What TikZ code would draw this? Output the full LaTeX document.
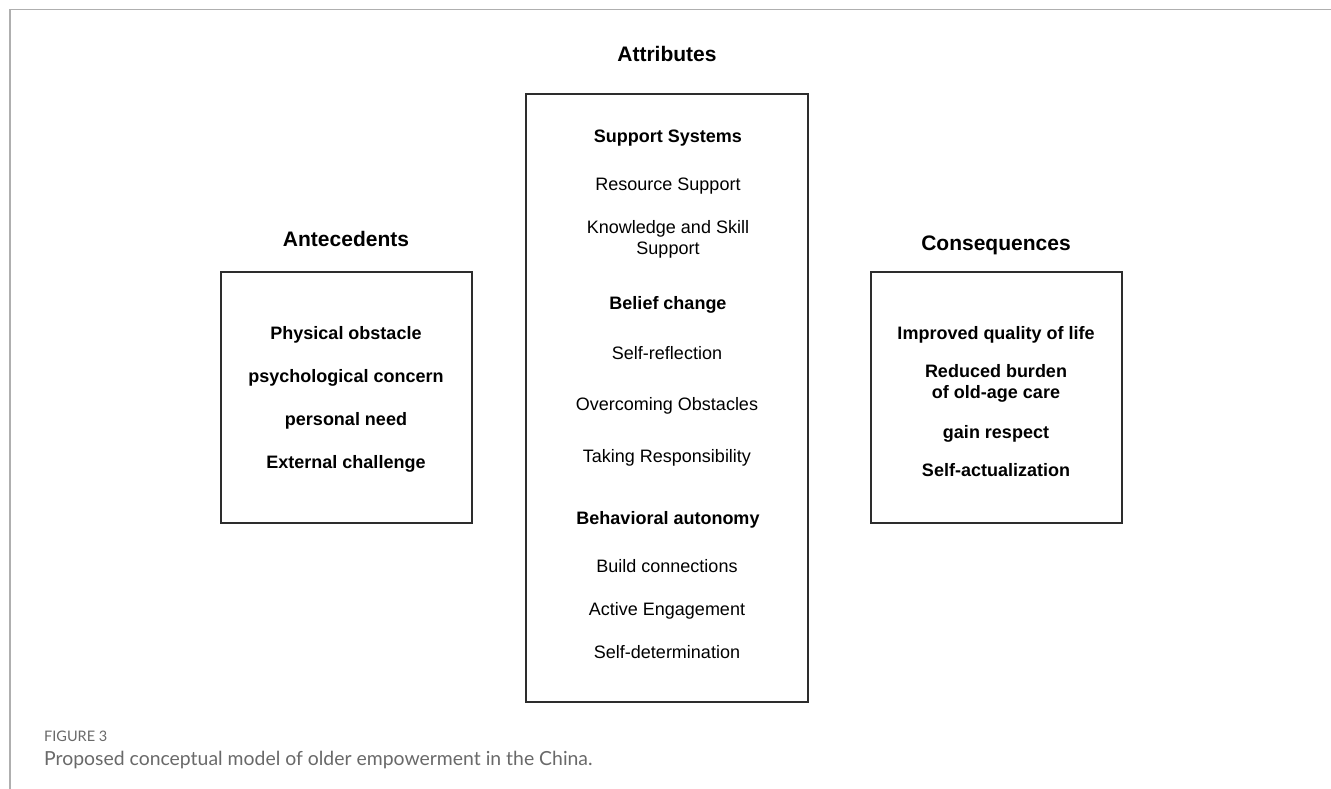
\documentclass[tikz,border=0pt]{standalone}
\usepackage{fontspec}
\setmainfont{Liberation Sans}
\newfontfamily\capfont{Lato}
\definecolor{framegray}{RGB}{175,175,175}
\definecolor{capgray}{RGB}{105,105,105}
\definecolor{boxline}{RGB}{45,45,45}
\begin{document}
\begin{tikzpicture}[x=1pt,y=-1pt,
  box/.style={draw=boxline, line width=1.2pt, inner sep=0pt},
  title/.style={font=\fontsize{21}{25}\selectfont\bfseries, inner sep=0pt},
  item/.style={font=\fontsize{18}{21}\selectfont, align=center, inner sep=0pt},
  bitem/.style={font=\fontsize{18}{21}\selectfont\bfseries, align=center, inner sep=0pt},
  frameline/.style={draw=framegray, line width=1.4pt}]
\useasboundingbox (0,0) rectangle (1331,789);
% frame
\coordinate (fbl) at (10,789);
\coordinate (ftl) at (10,9.5);
\coordinate (ftr) at (1331,9.5);
\draw[frameline] (fbl) -- (ftl) -- (ftr);
% boxes
\node[box, minimum width=251pt, minimum height=251pt] (ante) at (346.5,397.5) {};
\node[box, minimum width=282pt, minimum height=608pt] (attr) at (667,398) {};
\node[box, minimum width=251pt, minimum height=251pt] (cons) at (996.5,397.5) {};
% titles
\node[title] (tattr) at (667,54) {Attributes};
\node[title] (tante) at (346,239) {Antecedents};
\node[title] (tcons) at (996,245) {Consequences};
% antecedents
\node[bitem] (a1) at (346,335) {Physical obstacle};
\node[bitem] (a2) at (346,378) {psychological concern};
\node[bitem] (a3) at (346,421) {personal need};
\node[bitem] (a4) at (346,464) {External challenge};
% attributes
\node[bitem] (m1) at (668,138) {Support Systems};
\node[item] (m2) at (668,186) {Resource Support};
\node[item] (m3) at (668,239.5) {Knowledge and Skill\\Support};
\node[bitem] (m4) at (668,305) {Belief change};
\node[item] (m5) at (667,353) {Self-reflection};
\node[item] (m6) at (667,406) {Overcoming Obstacles};
\node[item] (m7) at (667,458) {Taking Responsibility};
\node[bitem] (m8) at (668,520) {Behavioral autonomy};
\node[item] (m9) at (667,566) {Build connections};
\node[item] (m10) at (667,611) {Active Engagement};
\node[item] (m11) at (667,652) {Self-determination};
% consequences
\node[bitem] (c1) at (996,335) {Improved quality of life};
\node[bitem] (c2) at (996,383.5) {Reduced burden\\of old-age care};
\node[bitem] (c3) at (996,434) {gain respect};
\node[bitem] (c4) at (996,470) {Self-actualization};
% caption
\node[anchor=base west, inner sep=0pt, text=capgray, font=\capfont\fontsize{14.5}{18}\selectfont] (fig) at (44,741) {FIGURE 3};
\node[anchor=base west, inner sep=0pt, text=capgray, font=\capfont\fontsize{19.4}{24}\selectfont] (cap) at (44,765) {Proposed conceptual model of older empowerment in the China.};
\end{tikzpicture}
\end{document}
